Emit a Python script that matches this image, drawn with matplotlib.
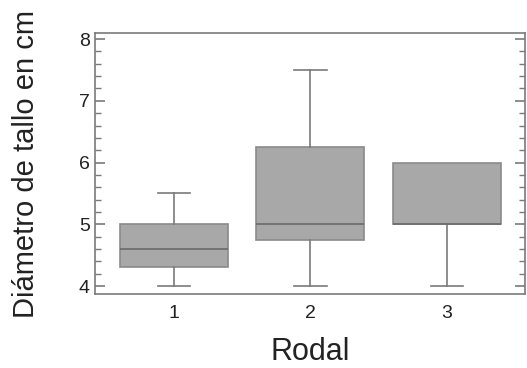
import numpy as np
import matplotlib.pyplot as plt
from matplotlib.ticker import MultipleLocator

plt.rcParams['font.family'] = ['Liberation Sans', 'DejaVu Sans']

rodal = ['1', '2', '3']
minimo = [4.0, 4.0, 4.0]
q1 = [4.3, 4.75, 5.0]
mediana = [4.6, 5.0, 5.0]
q3 = [5.0, 6.25, 6.0]
maximo = [5.5, 7.5, 6.0]

stats = []
for i in range(len(rodal)):
    stats.append({'label': rodal[i], 'whislo': minimo[i], 'q1': q1[i],
                  'med': mediana[i], 'q3': q3[i], 'whishi': maximo[i]})

fig = plt.figure(figsize=(5.27, 3.68), dpi=100)
ax = fig.add_axes([0.180, 0.201, 0.816, 0.709])

gris = '#7a7a7a'
res = ax.bxp(stats, positions=[1, 2, 3], widths=0.79, capwidths=0.24,
             patch_artist=True, showfliers=False,
             boxprops=dict(facecolor='#a8a8a8', edgecolor='#8a8a8a', linewidth=1.2),
             medianprops=dict(color='#6a6a6a', linewidth=1.2),
             whiskerprops=dict(color=gris, linewidth=1.2),
             capprops=dict(color=gris, linewidth=1.2))

# no upper whisker where max == q3
for i in range(len(rodal)):
    if maximo[i] == q3[i]:
        res['caps'][2 * i + 1].set_visible(False)

ax.set_xlim(0.421, 3.571)
ax.set_ylim(3.87, 8.097)
ax.yaxis.set_major_locator(MultipleLocator(1))
ax.yaxis.set_minor_locator(MultipleLocator(0.2))
ax.tick_params(axis='y', which='both', direction='in', right=True,
               colors=gris, labelcolor='#222222', labelsize=14)
ax.tick_params(axis='y', which='major', length=7, width=1.2)
ax.tick_params(axis='y', which='minor', length=4, width=1.0)
ax.tick_params(axis='x', length=0, labelsize=14, labelcolor='#222222', pad=8)

for s in ax.spines.values():
    s.set_color(gris)
    s.set_linewidth(1.2)

ax.set_ylabel('Diámetro de tallo en cm', fontsize=21, color='#222222', labelpad=28)
ax.set_xlabel('Rodal', fontsize=22, color='#222222', labelpad=11)

fig.savefig('out.png', dpi=100)
